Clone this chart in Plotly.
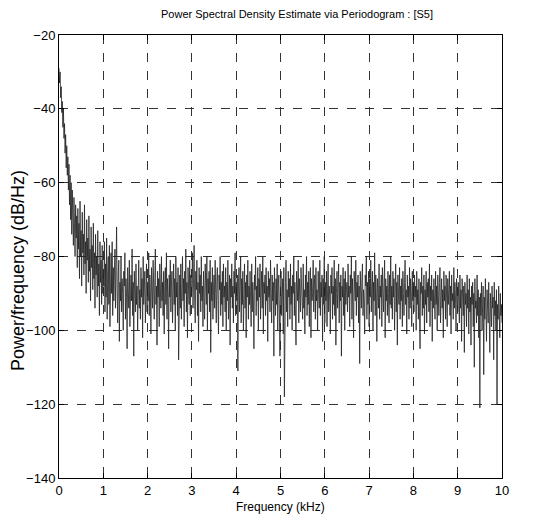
import numpy as np
import plotly.graph_objects as go

# Frequency axis (kHz), evenly spaced periodogram bins
freq_start_khz = 0.0
freq_stop_khz = 10.0

# PSD values (dB/Hz), 0.0125 kHz apart
psd_0_1k = [  # 0.0000 - 1.0000 kHz
    -29, -33, -30, -37, -34, -41, -38, -45, -40, -48,
    -44, -52, -47, -56, -50, -58, -53, -62, -55, -66,
    -58, -70, -60, -74, -62, -68, -77, -64, -72, -80,
    -66, -75, -69, -83, -67, -78, -71, -86, -65, -80,
    -73, -88, -68, -79, -74, -85, -66, -82, -76, -90,
    -70, -81, -75, -87, -69, -84, -78, -92, -72, -83,
    -77, -89, -71, -86, -79, -94, -74, -85, -80, -91,
    -73, -88, -82, -96, -76, -87, -81, -93, -77, -90,
    -85,
]
psd_1_4k = [  # 1.0125 - 4.0000 kHz
    -88, -76, -95, -82, -91, -75, -97, -84, -80, -93, -77, -99, -86, -79, -90, -76, -96, -83, -92, -85,
    -78, -94, -83, -72, -89, -98, -85, -81, -103, -87, -92, -80, -95, -86, -90, -100, -84, -88, -79, -97,
    -86, -91, -105, -83, -89, -94, -81, -99, -88, -85, -92, -78, -96, -87, -107, -84, -90, -95, -82, -93,
    -88, -100, -85, -81, -94, -89, -97, -83, -91, -86, -102, -80, -93, -88, -84, -98, -90, -82, -95, -87,
    -92, -79, -96, -85, -89, -101, -83, -87, -94, -81, -90, -97, -86, -78, -93, -88, -104, -84, -91, -86,
    -99, -82, -89, -94, -80, -92, -87, -96, -84, -101, -88, -83, -93, -79, -97, -86, -90, -105, -85, -91,
    -81, -95, -88, -84, -98, -90, -82, -93, -86, -100, -80, -91, -87, -96, -83, -108, -89, -85, -94, -82,
    -97, -88, -80, -92, -86, -99, -84, -90, -78, -95, -87, -102, -83, -89, -93, -81, -96, -85, -91, -88,
    -79, -94, -86, -77, -92, -98, -84, -89, -81, -96, -87, -103, -83, -90, -85, -95, -80, -92, -88, -99,
    -84, -91, -97, -82, -88, -93, -80, -100, -86, -90, -84, -95, -81, -106, -87, -92, -83, -97, -89, -85,
    -94, -81, -90, -98, -86, -83, -92, -101, -85, -89, -80, -96, -87, -93, -84, -99, -82, -91, -88, -95,
    -83, -100, -87, -92, -81, -97, -89, -85, -104, -86, -91, -82, -94, -88, -98, -84, -90, -79, -96, -87,
]
psd_4_7k = [  # 4.0125 - 7.0000 kHz
    -92, -85, -111, -88, -83, -95, -90, -80, -98, -86, -93, -84, -100, -89, -82, -94, -87, -102, -85, -91,
    -81, -97, -88, -93, -84, -90, -99, -82, -95, -87, -91, -105, -85, -89, -80, -96, -88, -92, -83, -100,
    -86, -91, -82, -97, -89, -84, -94, -80, -101, -87, -90, -85, -96, -83, -92, -88, -103, -84, -91, -86,
    -95, -81, -89, -98, -85, -92, -87, -107, -83, -90, -96, -86, -93, -82, -100, -88, -85, -94, -107, -89,
    -84, -96, -90, -86, -101, -83, -118, -92, -87, -81, -95, -89, -99, -84, -91, -86, -97, -82, -93, -88,
    -100, -85, -90, -80, -96, -87, -93, -104, -84, -89, -92, -81, -98, -86, -91, -95, -83, -90, -88, -97,
    -82, -94, -89, -101, -85, -91, -80, -96, -87, -93, -84, -99, -88, -83, -102, -86, -92, -90, -81, -95,
    -88, -85, -97, -83, -92, -89, -100, -84, -90, -94, -81, -96, -87, -91, -85, -103, -86, -93, -80, -98,
    -87, -92, -84, -99, -89, -82, -95, -88, -91, -101, -85, -90, -83, -97, -88, -93, -81, -96, -86, -104,
    -90, -84, -94, -89, -82, -98, -87, -92, -85, -107, -88, -91, -83, -96, -86, -100, -84, -93, -89, -87,
    -95, -82, -91, -88, -99, -85, -90, -80, -97, -86, -93, -102, -84, -89, -92, -81, -96, -87, -91, -85,
    -98, -88, -109, -84, -90, -94, -86, -82, -96, -89, -92, -101, -85, -88, -80, -97, -87, -93, -84, -99,
]
psd_7_10k = [  # 7.0125 - 10.0000 kHz
    -86, -91, -81, -95, -88, -84, -100, -87, -92, -79, -96, -85, -90, -103, -86, -89, -94, -82, -97, -88,
    -91, -85, -99, -83, -89, -95, -87, -81, -102, -86, -92, -88, -96, -84, -90, -98, -85, -93, -80, -94,
    -88, -97, -84, -91, -86, -100, -89, -82, -95, -87, -104, -85, -90, -93, -83, -97, -88, -92, -86, -99,
    -84, -90, -96, -87, -81, -93, -89, -101, -85, -91, -88, -97, -83, -94, -86, -90, -99, -84, -92, -87,
    -95, -85, -91, -88, -100, -84, -93, -89, -97, -86, -92, -105, -87, -90, -83, -96, -88, -94, -85, -101,
    -89, -93, -84, -98, -87, -91, -86, -95, -82, -99, -88, -92, -85, -103, -89, -94, -86, -90, -97, -84,
    -93, -88, -100, -85, -91, -96, -87, -83, -98, -90, -86, -94, -89, -102, -84, -92, -88, -97, -85, -91,
    -99, -86, -93, -89, -84, -96, -88, -101, -85, -92, -90, -97, -83, -94, -87, -91, -100, -86, -89, -95,
    -87, -92, -98, -85, -94, -89, -103, -86, -91, -96, -88, -106, -87, -93, -90, -99, -85, -94, -89, -101,
    -86, -95, -91, -104, -88, -93, -87, -99, -90, -110, -86, -94, -92, -98, -85, -96, -89, -102, -91, -121,
    -90, -96, -87, -100, -93, -88, -112, -91, -97, -86, -94, -103, -89, -92, -98, -87, -95, -106, -90, -93,
    -99, -88, -94, -91, -108, -87, -96, -92, -100, -89, -120, -93, -97, -88, -95, -102, -90, -96, -93, -98,
]

x_ticks = [0, 1, 2, 3, 4, 5, 6, 7, 8, 9, 10]
y_ticks = [-140, -120, -100, -80, -60, -40, -20]

psd = psd_0_1k + psd_1_4k + psd_4_7k + psd_7_10k
freq = np.linspace(freq_start_khz, freq_stop_khz, len(psd))

fig = go.Figure()
fig.add_trace(go.Scatter(
    x=freq, y=psd, mode="lines",
    line=dict(color="#222222", width=0.8),
    showlegend=False, hoverinfo="skip",
))

axis_common = dict(
    showline=True, linecolor="black", linewidth=1, mirror="allticks",
    ticks="inside", ticklen=5, tickcolor="black",
    showgrid=True, gridcolor="#333333", griddash="dash", gridwidth=1,
    zeroline=False, automargin=False,
    tickfont=dict(family="Liberation Sans, Arial, sans-serif", size=13, color="black"),
)

fig.update_layout(
    width=542, height=520,
    margin=dict(l=59, r=40, t=35, b=42),
    paper_bgcolor="white", plot_bgcolor="white",
    font=dict(family="Liberation Sans, Arial, sans-serif", color="black"),
    title=dict(
        text="Power Spectral Density Estimate via Periodogram : [S5]",
        font=dict(size=11, color="black"),
        x=0.548, xanchor="center", y=0.972, yanchor="middle",
    ),
    xaxis=dict(range=[0, 10], tickvals=x_ticks, **axis_common),
    yaxis=dict(range=[-140, -20], tickvals=y_ticks, **axis_common),
    annotations=[
        dict(text="Frequency (kHz)", xref="paper", yref="paper",
             x=0.499, y=-0.0655, xanchor="center", yanchor="middle",
             showarrow=False, font=dict(size=12, color="black")),
        dict(text="Power/frequency (dB/Hz)", xref="paper", yref="paper",
             x=-0.0926, y=0.4695, xanchor="center", yanchor="middle",
             textangle=-90, showarrow=False, font=dict(size=18, color="black")),
    ],
)

fig.write_html("out.html")
